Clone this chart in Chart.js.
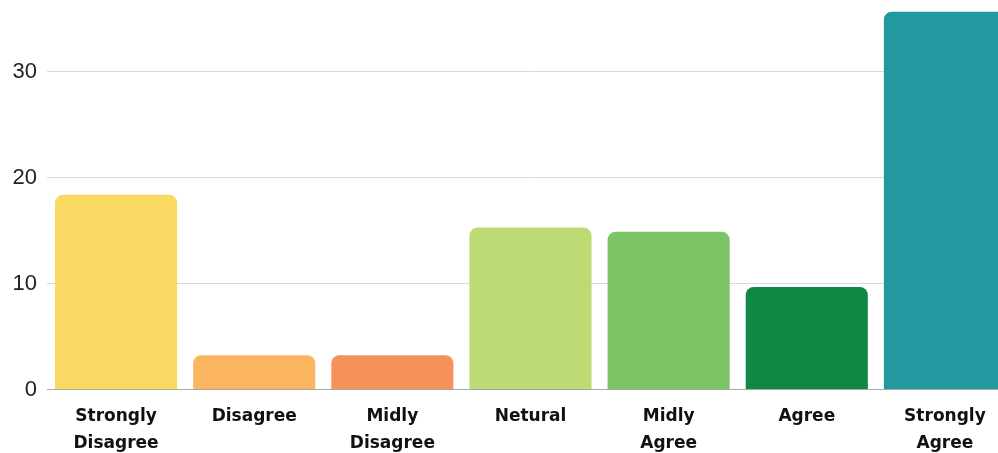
<html>

<head>
    <meta charset="utf-8">
    <title>Survey Responses</title>
    <script src="https://cdn.jsdelivr.net/npm/chart.js"></script>
    <style>
        body { margin: 0; background: #ffffff; overflow: hidden; }
        #wrap { position: relative; width: 1014px; height: 470px; }
    </style>
</head>

<body>
    <div id="wrap">
        <canvas id="myChart"></canvas>
    </div>

    <script>
        // ** DATA
        const labels = [
            ["Strongly", "Disagree"],
            "Disagree",
            ["Midly", "Disagree"],
            "Netural",
            ["Midly", "Agree"],
            "Agree",
            ["Strongly", "Agree"]
        ];
        const responses = [18.4, 3.25, 3.25, 15.3, 14.9, 9.7, 35.7];
        const barColors = ["#F9D962", "#FBB560", "#F6915A", "#BEDA75", "#7BC566", "#118744", "#22999E"];
        const yTicks = [0, 10, 20, 30];

        // ** SETUP
        const data = {
            labels: labels,
            datasets: [{
                label: "Responses",
                data: responses,
                backgroundColor: barColors,
                borderRadius: 8,
                borderSkipped: "start",
                barPercentage: 0.884,
                categoryPercentage: 1.0,
            }],
        };

        const config = {
            type: "bar",
            data: data,
            options: {
                responsive: true,
                maintainAspectRatio: false,
                animation: false,
                layout: { padding: 0 },
                plugins: {
                    legend: { display: false },
                    tooltip: { enabled: false },
                },
                scales: {
                    x: {
                        offset: true,
                        grid: { display: false, drawTicks: false },
                        border: { display: true, color: "#a8a8a8", width: 1 },
                        ticks: {
                            padding: 13,
                            color: "#111111",
                            maxRotation: 0,
                            autoSkip: false,
                            font: { family: "DejaVu Sans", weight: "bold", size: 17, lineHeight: 1.6 },
                        },
                    },
                    y: {
                        min: 0,
                        max: 36.8,
                        grid: { color: "#dadada", lineWidth: 1, drawTicks: false },
                        border: { display: false },
                        ticks: {
                            stepSize: 10,
                            padding: 10,
                            color: "#222222",
                            font: { family: "Liberation Sans", size: 22 },
                        },
                        afterBuildTicks: (axis) => {
                            axis.ticks = yTicks.map(v => ({ value: v }));
                        },
                        afterFit: (axis) => {
                            axis.width = 47;
                            axis.paddingTop = 0;
                            axis.paddingBottom = 0;
                        },
                    },
                },
            },
        };

        const ctx = document.getElementById("myChart").getContext("2d");
        myChart = new Chart(ctx, config);
    </script>
</body>

</html>
